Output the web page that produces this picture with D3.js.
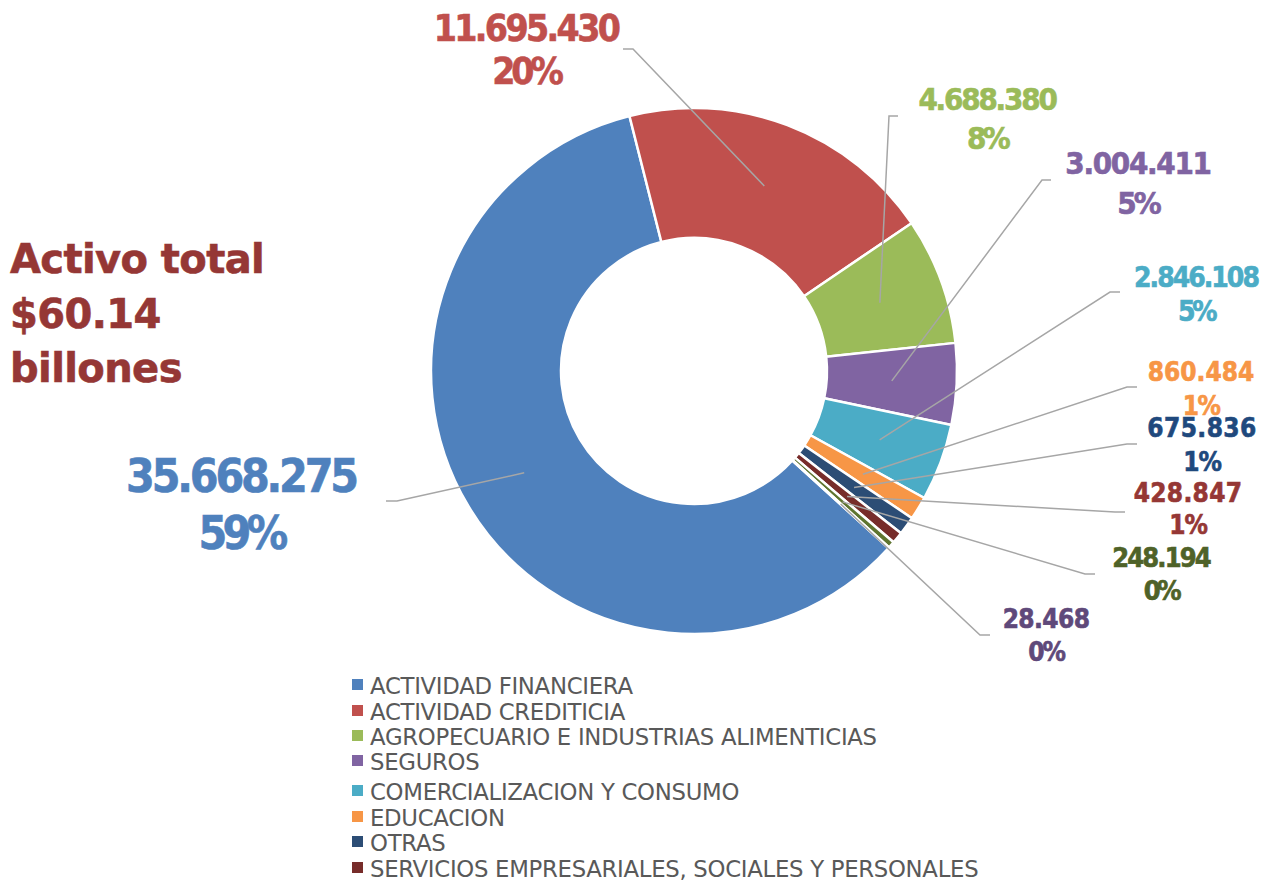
<!DOCTYPE html>
<html>
<head>
<meta charset="utf-8">
<script src="https://cdn.jsdelivr.net/npm/d3@7"></script>
<style>
body { margin: 0; background: #fff; }
svg { display: block; }
</style>
</head>
<body>
<script>
// data
var categories = ["ACTIVIDAD FINANCIERA", "ACTIVIDAD CREDITICIA", "AGROPECUARIO E INDUSTRIAS ALIMENTICIAS",
	"SEGUROS", "COMERCIALIZACION Y CONSUMO", "EDUCACION", "OTRAS",
	"SERVICIOS EMPRESARIALES, SOCIALES Y PERSONALES", "", ""];
var values = [35668275, 11695430, 4688380, 3004411, 2846108, 860484, 675836, 428847, 248194, 28468];
var valueLabels = ["35.668.275", "11.695.430", "4.688.380", "3.004.411", "2.846.108",
	"860.484", "675.836", "428.847", "248.194", "28.468"];
var percentLabels = ["59%", "20%", "8%", "5%", "5%", "1%", "1%", "1%", "0%", "0%"];
var titleLines = ["Activo total", "$60.14", "billones"];

var sliceColors = ["#4F81BD", "#C0504D", "#9BBB59", "#8064A2", "#4BACC6", "#F79646", "#2C4D75", "#772C2A", "#5F7530", "#4D3B62"];
var labelColors = ["#4F81BD", "#C0504D", "#9BBB59", "#8064A2", "#4BACC6", "#F79646", "#1F497D", "#953735", "#4F6228", "#5F497A"];

// label placement: [centre x, line1 y, line2 y, font size, elbow x, end x, leader y, letter spacing]
var labelLayout = [
	[241, 475, 532, 46, 397, 386, 501, -3.2],
	[526, 28, 71, 37, 633, 623, 49, -2.6],
	[987, 99, 138, 31, 889, 898, 116, -2.2],
	[1138, 163, 203, 31, 1042, 1051, 180, -1.3],
	[1196, 277, 311, 28, 1110, 1120, 292, -2],
	[1201, 372, 406, 26, 1127, 1137, 387, 0],
	[1202, 428, 462, 26, 1127, 1137, 444, 0.4],
	[1188, 493, 525, 26, 1115, 1125, 512, 0.3],
	[1161, 557, 590, 27, 1085, 1095, 574, -1.9],
	[1046, 619, 652, 26, 980, 990, 635, -0.6]
];

var width = 1262,
	height = 882,
	cx = 694,
	cy = 371,
	outerR = 263,
	innerR = 133,
	rotation = 132.3 * Math.PI / 180;

var svg = d3.select("body").append("svg")
	.attr("width", width)
	.attr("height", height);

var pie = d3.pie()
	.sort(null)
	.startAngle(rotation)
	.endAngle(rotation + 2 * Math.PI);

var arc = d3.arc()
	.innerRadius(innerR)
	.outerRadius(outerR);

var arcs = pie(values);

var g = svg.append("g")
	.attr("transform", "translate(" + cx + "," + cy + ")");

g.selectAll("path.slice")
	.data(arcs)
	.enter().append("path")
	.attr("class", "slice")
	.attr("d", arc)
	.attr("fill", function(d, i) { return sliceColors[i]; })
	.attr("stroke", "#fff")
	.attr("stroke-width", 2.5)
	.attr("stroke-linejoin", "round");

// leader lines
svg.selectAll("polyline.leader")
	.data(arcs)
	.enter().append("polyline")
	.attr("class", "leader")
	.attr("points", function(d, i) {
		var c = arc.centroid(d);
		var L = labelLayout[i];
		return [[cx + c[0], cy + c[1]], [L[4], L[6]], [L[5], L[6]]].map(function(p) { return p.join(","); }).join(" ");
	})
	.attr("fill", "none")
	.attr("stroke", "#A6A6A6")
	.attr("stroke-width", 1.5);

// data labels
var lbl = svg.selectAll("g.lbl")
	.data(arcs)
	.enter().append("g")
	.attr("class", "lbl")
	.style("font-family", "'DejaVu Sans Condensed', 'DejaVu Sans', sans-serif")
	.style("font-stretch", "condensed")
	.style("font-weight", "bold")
	.attr("text-anchor", "middle")
	.attr("fill", function(d, i) { return labelColors[i]; })
	.attr("stroke", function(d, i) { return labelColors[i]; })
	.attr("stroke-width", 0.6);

lbl.append("text")
	.attr("x", function(d, i) { return labelLayout[i][0]; })
	.attr("y", function(d, i) { return labelLayout[i][1] + labelLayout[i][3] * 0.36; })
	.style("font-size", function(d, i) { return labelLayout[i][3] + "px"; })
	.style("letter-spacing", function(d, i) { return labelLayout[i][7] + "px"; })
	.text(function(d, i) { return valueLabels[i]; });

lbl.append("text")
	.attr("x", function(d, i) { return labelLayout[i][0]; })
	.attr("y", function(d, i) { return labelLayout[i][2] + labelLayout[i][3] * 0.36; })
	.style("font-size", function(d, i) { return labelLayout[i][3] + "px"; })
	.style("letter-spacing", function(d, i) { return (labelLayout[i][7] - 1.5) + "px"; })
	.text(function(d, i) { return percentLabels[i]; });

// title
svg.append("g")
	.selectAll("text")
	.data(titleLines)
	.enter().append("text")
	.attr("x", 10)
	.attr("y", function(d, i) { return 273 + i * 54.5; })
	.attr("fill", "#953735")
	.attr("stroke", "#953735")
	.attr("stroke-width", 0.6)
	.style("font-family", "'DejaVu Sans', sans-serif")
	.style("font-weight", "bold")
	.style("font-size", "40px")
	.style("letter-spacing", "-0.6px")
	.text(function(d) { return d; });

// legend
var legendItems = categories.map(function(c, i) { return { name: c, color: sliceColors[i] }; })
	.filter(function(d) { return d.name !== ""; });
var legendY = [686, 712, 737, 762, 792, 818, 843, 869];

var leg = svg.append("g")
	.selectAll("g")
	.data(legendItems)
	.enter().append("g")
	.attr("transform", function(d, i) { return "translate(352," + legendY[i] + ")"; });

leg.append("rect")
	.attr("x", 0)
	.attr("y", -7)
	.attr("width", 11)
	.attr("height", 11)
	.attr("fill", function(d) { return d.color; });

leg.append("text")
	.attr("x", 18)
	.attr("y", 8)
	.attr("fill", "#595959")
	.style("font-family", "'DejaVu Sans', sans-serif")
	.style("font-size", "22.8px")
	.style("letter-spacing", "-0.3px")
	.text(function(d) { return d.name; });
</script>
</body>
</html>
